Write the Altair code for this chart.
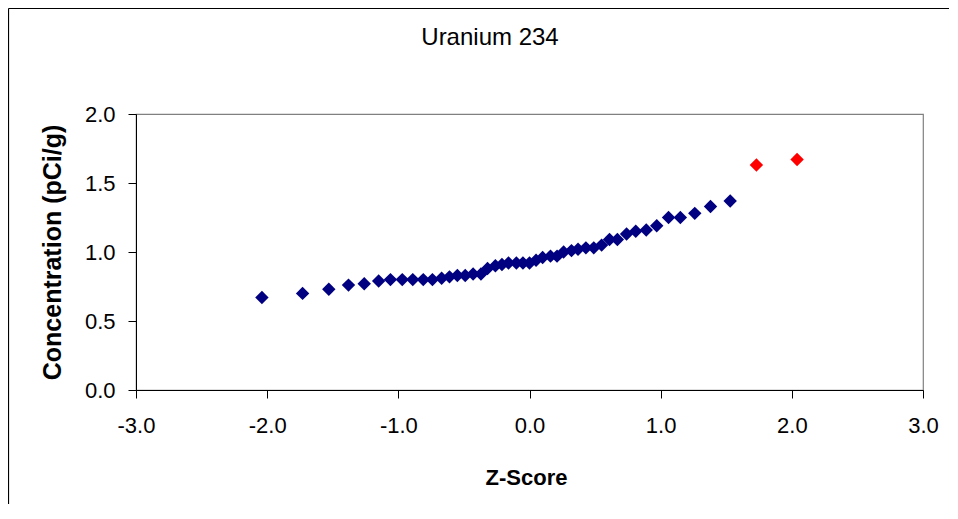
import altair as alt
import pandas as pd

# Z-scores (x) and concentrations (y)
z_scores = [-2.04, -1.73, -1.53, -1.38, -1.26, -1.15, -1.06, -0.97, -0.89, -0.81,
            -0.74, -0.67, -0.61, -0.55, -0.49, -0.43, -0.37, -0.32, -0.26, -0.21,
            -0.16, -0.10, -0.05, 0.00, 0.05, 0.10, 0.16, 0.21, 0.26, 0.32,
            0.37, 0.43, 0.49, 0.55, 0.61, 0.67, 0.74, 0.81, 0.89, 0.97,
            1.06, 1.15, 1.26, 1.38, 1.53, 1.73, 2.04]
concentration = [0.67, 0.70, 0.73, 0.76, 0.77, 0.79, 0.80, 0.80, 0.80, 0.80,
                 0.80, 0.81, 0.82, 0.83, 0.83, 0.84, 0.84, 0.88, 0.90, 0.91,
                 0.92, 0.92, 0.92, 0.92, 0.94, 0.96, 0.97, 0.97, 1.00, 1.01,
                 1.02, 1.03, 1.03, 1.05, 1.09, 1.09, 1.13, 1.15, 1.16, 1.19,
                 1.25, 1.25, 1.28, 1.33, 1.37, 1.63, 1.67]
status = ["normal"] * 45 + ["outlier"] * 2

title_text = "Uranium 234"
x_title = "Z-Score"
y_title = "Concentration (pCi/g)"
x_ticks = [-3.0, -2.0, -1.0, 0.0, 1.0, 2.0, 3.0]
y_ticks = [0.0, 0.5, 1.0, 1.5, 2.0]

df = pd.DataFrame({"z": z_scores, "c": concentration, "s": status})

FONT = "Liberation Sans"
W, H = 787, 276
PAD = {"left": 128, "top": 106, "right": 26, "bottom": 114}
LABEL_EXPR = "replace(datum.label, '\u2212', '-')"

points = alt.Chart(df).mark_point(shape="diamond", filled=True, size=180, opacity=1).encode(
    x=alt.X("z:Q", scale=alt.Scale(domain=[-3, 3], nice=False, zero=False),
            axis=alt.Axis(values=x_ticks, format=".1f", labelExpr=LABEL_EXPR,
                          title=x_title, grid=False, labelFlush=False, labelOverlap=False,
                          domainColor="black", tickColor="black", tickSize=8,
                          labelFontSize=22, labelPadding=17, labelColor="black",
                          labelFont=FONT, titleFont=FONT, titleFontSize=22,
                          titleFontWeight="bold", titleColor="black",
                          titleX=390, titleY=94, titleBaseline="alphabetic",
                          titleAnchor="start", titleAlign="center")),
    y=alt.Y("c:Q", scale=alt.Scale(domain=[0, 2], nice=False),
            axis=alt.Axis(values=y_ticks, format=".1f", title=y_title, grid=False,
                          labelFlush=False, labelOverlap=False,
                          domainColor="black", tickColor="black", tickSize=8,
                          labelFontSize=22, labelPadding=13, labelColor="black",
                          labelFont=FONT, titleFont=FONT, titleFontSize=25,
                          titleFontWeight="bold", titleColor="black",
                          titleX=-76, titleY=138, titleAngle=-90,
                          titleBaseline="alphabetic", titleAlign="center",
                          titleAnchor="start")),
    color=alt.Color("s:N", scale=alt.Scale(domain=["normal", "outlier"],
                                           range=["#000080", "#FF0000"]), legend=None),
)

one = pd.DataFrame({"t": [title_text]})
title = alt.Chart(one).mark_text(font=FONT, fontSize=24, color="black",
                                 align="center", baseline="alphabetic").encode(
    x=alt.value(354), y=alt.value(-69), text="t:N")

# outer chart frame (only its left and top edges fall inside the window)
x_end = W + PAD["right"]
y_end = H + PAD["bottom"]
frame_left = alt.Chart(one).mark_rule(color="black", strokeWidth=1.2).encode(
    x=alt.value(-127.5), y=alt.value(-105.5), y2=alt.value(y_end))
frame_top = alt.Chart(one).mark_rule(color="black", strokeWidth=1.2).encode(
    x=alt.value(-127.5), x2=alt.value(x_end), y=alt.value(-105.5))

chart = alt.layer(frame_left, frame_top, points, title).properties(
    width=W, height=H,
    autosize=alt.AutoSizeParams(type="none"),
    padding=PAD,
).configure_view(stroke="#808080", strokeWidth=1.2)

chart.save("out.html", embed_options={"renderer": "svg", "actions": False})
